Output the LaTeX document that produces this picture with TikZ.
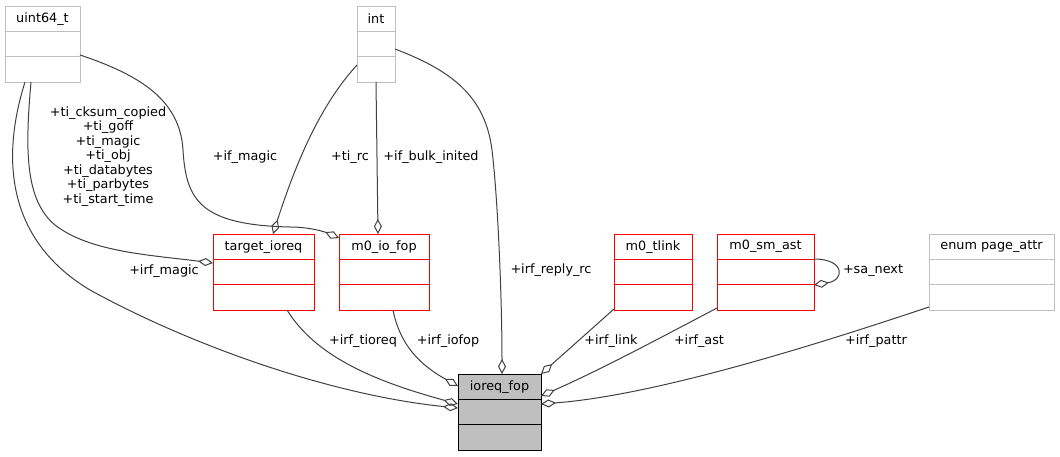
\documentclass[tikz,border=0pt]{standalone}
\usepackage{fontspec}
\setmainfont{DejaVu Sans}
\usetikzlibrary{arrows.meta,calc}
\definecolor{edgegray}{HTML}{404040}
\definecolor{boxgray}{HTML}{BFBFBF}
\definecolor{boxred}{HTML}{FF0000}
\newcommand\umlclass[7]{%
  \node[#2, minimum width={(#5-#3)*1pt}, minimum height={(#6-#4)*1pt}] (#1) at ({(#3+#5)/2},{(#4+#6)/2}) {};
  \node[lbl] (#1-t) at ($(#1.north)!1/6!(#1.south)$) {#7};
  \draw[#2 sep] ($(#1.north west)!1/3!(#1.south west)$) -- ($(#1.north east)!1/3!(#1.south east)$);
  \draw[#2 sep] ($(#1.north west)!2/3!(#1.south west)$) -- ($(#1.north east)!2/3!(#1.south east)$);
}
\tikzset{
  lbl/.style={font=\fontsize{12.8}{14.5}\selectfont, inner sep=0pt, outer sep=0pt},
  greybox/.style={draw=boxgray, line width=1pt, inner sep=0pt, outer sep=0pt},
  greybox sep/.style={draw=boxgray, line width=1pt},
  redbox/.style={draw=boxred, line width=1pt, inner sep=0pt, outer sep=0pt},
  redbox sep/.style={draw=boxred, line width=1pt},
  mainbox/.style={draw=black, fill=boxgray, line width=1pt, inner sep=0pt, outer sep=0pt},
  mainbox sep/.style={draw=black, line width=1pt},
  assoc/.style={draw=edgegray, line width=1pt, -{Diamond[open,length=15pt,width=8pt]}},
}
\begin{document}
\begin{tikzpicture}[x=1pt,y=-1pt]
\useasboundingbox (0,0) rectangle (1060,456);
\umlclass{u}{greybox}{5}{6}{80}{82}{uint64\_t}
\umlclass{n}{greybox}{357}{6}{395}{82}{int}
\umlclass{ti}{redbox}{213}{234}{314}{310}{target\_ioreq}
\umlclass{iof}{redbox}{339}{234}{429}{310}{m0\_io\_fop}
\umlclass{tl}{redbox}{614}{234}{692}{310}{m0\_tlink}
\umlclass{sm}{redbox}{717}{234}{814}{310}{m0\_sm\_ast}
\umlclass{pa}{greybox}{929}{234}{1054}{310}{enum page\_attr}
\umlclass{io}{mainbox}{458}{374}{541}{450}{ioreq\_fop}

% uint64_t -> ioreq_fop
\draw[assoc] ($(u.south west)+(20,0)$) .. controls (10,130) and (-10,230) .. (90,290)
  .. controls (190,345) and (330,395) .. ($(io.north west)+(0,34)$);
% uint64_t -> target_ioreq
\draw[assoc] ($(u.south west)+(26,0)$) .. controls (25,150) and (25,200) .. (55,225)
  .. controls (90,252) and (150,255) .. ($(ti.north west)+(0,29)$);
% uint64_t -> m0_io_fop
\draw[assoc] ($(u.north east)+(0,49)$) .. controls (140,75) and (180,100) .. (183,150)
  .. controls (186,200) and (200,225) .. (290,227)
  .. controls (310,227) and (325,232) .. ($(iof.north west)+(0,4)$);
% int -> target_ioreq
\draw[assoc] ($(n.north west)+(0,59)$) .. controls (325,100) and (300,150) .. ($(ti.north)+(9.5,0)$);
% int -> m0_io_fop
\draw[assoc] (n.south) -- ($(iof.north)+(-6,0)$);
% int -> ioreq_fop
\draw[assoc] ($(n.north east)+(0,43)$) .. controls (450,70) and (485,95) .. (492,150)
  .. controls (498,200) and (502,300) .. ($(io.north)+(2.5,0)$);
% target_ioreq -> ioreq_fop
\draw[assoc] ($(ti.south)+(23.5,0)$) .. controls (315,355) and (370,380) .. ($(io.north west)+(0,30)$);
% m0_io_fop -> ioreq_fop
\draw[assoc] ($(iof.south)+(9,0)$) .. controls (400,345) and (420,365) .. ($(io.north west)+(0,12)$);
% m0_tlink -> ioreq_fop
\draw[assoc] ($(tl.south west)+(0,-1)$) -- (io.north east);
% m0_sm_ast -> ioreq_fop
\draw[assoc] ($(sm.south west)+(0,-2)$) .. controls (660,338) and (600,370) .. ($(io.north east)+(0,22)$);
% enum page_attr -> ioreq_fop
\draw[assoc] ($(pa.south west)+(0,-3)$) .. controls (830,340) and (660,395) .. ($(io.north east)+(0,30)$);
% m0_sm_ast self
\draw[assoc] ($(sm.north east)+(0,25)$) .. controls (845,259) and (845,280) .. ($(sm.north east)+(0,51)$);

% labels
\node[lbl] (l1) at (164,271) {+irf\_magic};
\node[lbl, align=center] (l2) at (108,156.5) {+ti\_cksum\_copied\\+ti\_goff\\+ti\_magic\\+ti\_obj\\+ti\_databytes\\+ti\_parbytes\\+ti\_start\_time};
\node[lbl] (l3) at (245,157) {+if\_magic};
\node[lbl] (l4) at (350,157) {+ti\_rc};
\node[lbl] (l5) at (431,157) {+if\_bulk\_inited};
\node[lbl] (l6) at (551,270) {+irf\_reply\_rc};
\node[lbl] (l7) at (363,341) {+irf\_tioreq};
\node[lbl] (l8) at (448,341) {+irf\_iofop};
\node[lbl] (l9) at (611,341) {+irf\_link};
\node[lbl] (l10) at (699,341) {+irf\_ast};
\node[lbl] (l11) at (876,341) {+irf\_pattr};
\node[lbl] (l12) at (873,271) {+sa\_next};
\end{tikzpicture}
\end{document}
